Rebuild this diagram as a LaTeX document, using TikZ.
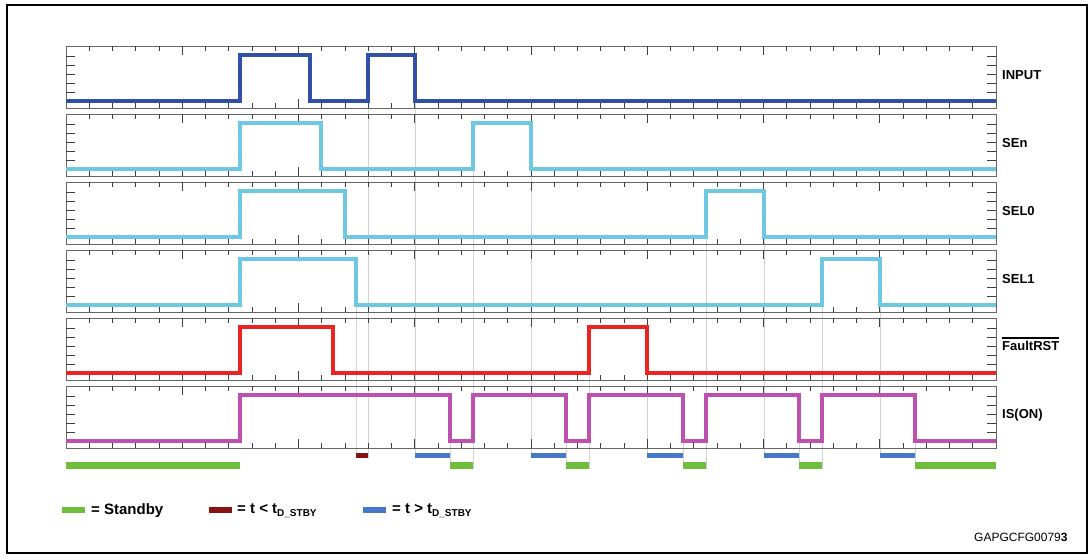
\documentclass[tikz,border=0pt]{standalone}
\usepackage{fontspec}
\setmainfont{Liberation Sans}
\definecolor{inblue}{RGB}{50,80,165}
\definecolor{selcyan}{RGB}{110,200,225}
\definecolor{rstred}{RGB}{235,35,35}
\definecolor{ismag}{RGB}{190,80,175}
\definecolor{stbgreen}{RGB}{110,190,60}
\definecolor{shortred}{RGB}{135,20,20}
\definecolor{longblue}{RGB}{70,120,200}
\definecolor{guidegrey}{RGB}{210,210,210}
\begin{document}
\begin{tikzpicture}[x=1pt, y=-1pt,
    sig/.style={line width=3.4pt, line join=miter},
    frame/.style={draw=black!60, line width=0.9pt},
    tick/.style={draw=black!75, line width=0.9pt},
    guide/.style={draw=guidegrey, line width=0.7pt},
    lab/.style={anchor=west, inner sep=0pt, font=\bfseries\fontsize{13}{15}\selectfont},
    legend/.style={anchor=west, inner sep=0pt, font=\bfseries\fontsize{15}{17}\selectfont}]
\useasboundingbox (0,0) rectangle (1090,558);
\draw[line width=2pt] (7,5) rectangle (1087,553);

\foreach \x/\y/\e in {356/259/458, 368/55/458, 415/55/458, 450/395/469, 473/123/469, 531/123/458,
    566/395/469, 589/327/469, 647/327/458, 683/395/469, 706/191/469, 764/191/458,
    799/395/469, 822/259/469, 880/259/458, 915/395/469}
    \draw[guide] (\x,\y) -- (\x,\e);

\foreach \t in {46,114,182,250,318,386}
{
    \draw[frame] (66,\t) rectangle (996,\t+62);
    \foreach \k in {1,...,39}
    {
        \pgfmathsetmacro\ticklen{mod(\k,5)==0 ? 9 : 5}
        \draw[tick] (66+23.25*\k,\t) -- ++(0,\ticklen) (66+23.25*\k,\t+62) -- ++(0,-\ticklen);
    }
    \foreach \j in {0,...,4}
        \draw[tick] (66,\t+10+9.2*\j) -- ++(9,0) (996,\t+10+9.2*\j) -- ++(-9,0);
}

\draw[sig, inblue] (66,101) -| (240,55) -| (310,101) -| (368,55) -| (415,101) -- (996,101);
\draw[sig, selcyan] (66,169) -| (240,123) -| (321,169) -| (473,123) -| (531,169) -- (996,169);
\draw[sig, selcyan] (66,237) -| (240,191) -| (345,237) -| (706,191) -| (764,237) -- (996,237);
\draw[sig, selcyan] (66,305) -| (240,259) -| (356,305) -| (822,259) -| (880,305) -- (996,305);
\draw[sig, rstred] (66,373) -| (240,327) -| (333,373) -| (589,327) -| (647,373) -- (996,373);
\draw[sig, ismag] (66,441) -| (240,395) -| (450,441) -| (473,395) -| (566,441) -| (589,395)
    -| (683,441) -| (706,395) -| (799,441) -| (822,395) -| (915,441) -- (996,441);

\node[lab] (input) at (1002,75) {INPUT};
\node[lab] (sen) at (1002,143) {SEn};
\node[lab] (selzero) at (1002,211) {SEL0};
\node[lab] (selone) at (1002,279) {SEL1};
\node[lab] (fault) at (1002,346) {FaultRST};
\draw[line width=1.3pt] ([yshift=3pt]fault.north west) -- ([yshift=3pt]fault.north east);
\node[lab] (ison) at (1002,415) {IS(ON)};

\foreach \a/\b in {66/240, 450/473, 566/589, 683/706, 799/822, 915/996}
    \fill[stbgreen] (\a,462) rectangle (\b,469);
\fill[shortred] (356,453) rectangle (368,458);
\foreach \a/\b in {415/450, 531/566, 647/683, 764/799, 880/915}
    \fill[longblue] (\a,453) rectangle (\b,458);

\fill[stbgreen] (62,507) rectangle (85,513);
\node[legend] (stby) at (91,511) {= Standby};
\fill[shortred] (209,507) rectangle (232,513);
\node[legend] (tshort) at (237,511) {= t < t\raisebox{-0.35ex}{\fontsize{10}{11}\selectfont D\_STBY}};
\fill[longblue] (363,507) rectangle (386,513);
\node[legend] (tlong) at (392,511) {= t > t\raisebox{-0.35ex}{\fontsize{10}{11}\selectfont D\_STBY}};

\node[anchor=west, inner sep=0pt, font=\fontsize{12}{14}\selectfont] (figid) at (974,537) {GAPGCFG0079\textbf{3}};
\end{tikzpicture}
\end{document}
